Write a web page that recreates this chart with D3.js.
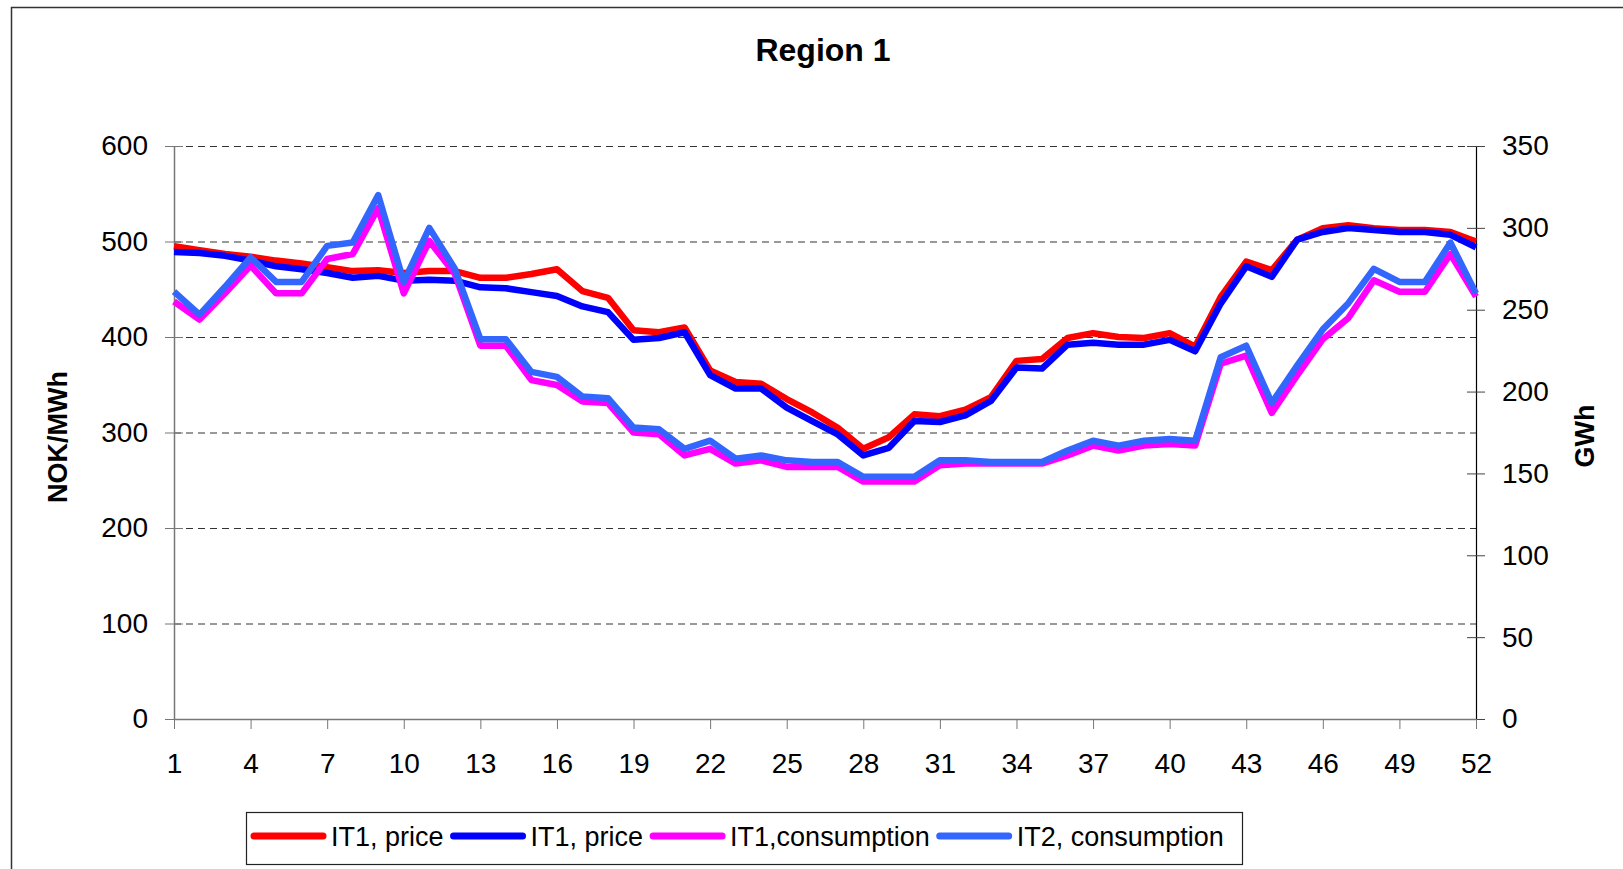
<!DOCTYPE html>
<html>
    <head>
        <meta charset="utf-8">
        <script src="https://d3js.org/d3.v7.min.js"></script>
        <title>Region 1</title>
        <style>
            body { margin: 0; background-color: #fff }
            text { font-family: "Liberation Sans", Arial, sans-serif }
        </style>
    </head>
    <body>
        <script>
            /* data */
            const weeks = d3.range(1, 53)
            const weekTicks = [1, 4, 7, 10, 13, 16, 19, 22, 25, 28, 31, 34, 37, 40, 43, 46, 49, 52]
            const priceTicks = [0, 100, 200, 300, 400, 500, 600]
            const gwhTicks = [0, 50, 100, 150, 200, 250, 300, 350]

            const priceIT1a = [495, 491, 487, 484, 480, 477, 473, 469, 470, 467, 469, 469, 462, 462, 466, 471, 448, 441, 407, 405,
                               410, 365, 353, 351, 335, 321, 305, 283, 295, 319, 317, 324, 337, 375, 377, 399, 404, 400, 399, 404,
                               390, 442, 479, 470, 502, 514, 517, 514, 512, 512, 510, 500]
            const priceIT1b = [489, 488, 485, 480, 474, 471, 467, 462, 464, 459, 460, 459, 452, 451, 447, 443, 432, 426, 397, 399,
                               405, 360, 346, 346, 326, 312, 298, 276, 284, 312, 311, 318, 333, 368, 367, 392, 394, 392, 392, 397,
                               385, 435, 474, 463, 502, 510, 514, 512, 510, 510, 507, 494]
            const consIT1 = [255, 244, 260, 277, 260, 260, 281, 284, 312, 260, 292, 272, 228, 228, 207, 204, 194, 193, 175, 174,
                             161, 165, 156, 158, 154, 154, 154, 145, 145, 145, 155, 156, 156, 156, 156, 161, 167, 164, 167, 168,
                             167, 217, 222, 187, 210, 232, 245, 268, 261, 261, 284, 258]
            const consIT2 = [261, 247, 264, 282, 267, 267, 289, 291, 320, 267, 300, 275, 232, 232, 212, 209, 197, 196, 178, 177,
                             165, 170, 159, 161, 158, 157, 157, 148, 148, 148, 158, 158, 157, 157, 157, 164, 170, 167, 170, 171,
                             170, 221, 228, 193, 216, 238, 254, 275, 267, 267, 291, 260]

            const seriesNames = ['IT1, price', 'IT1, price', 'IT1,consumption', 'IT2, consumption']
            const seriesColors = ['#ff0000', '#0000ff', '#ff00ff', '#3366ff']

            /* canvas setup */
            const width = 1623
            const height = 869
            const plot = { left: 174, right: 1476, top: 146, bottom: 719 }

            const svg = d3.select('body')
                .append('svg')
                    .attr('width', width)
                    .attr('height', height)

            // outer frame, only top and left edges show
            svg.append('rect')
                .attr('x', 11.5).attr('y', 7.5)
                .attr('width', 1800).attr('height', 1000)
                .attr('fill', 'none')
                .attr('stroke', '#333')
                .attr('stroke-width', 1.5)

            const xScale = d3.scaleLinear().domain([1, 52]).range([plot.left, plot.right])
            const yPrice = d3.scaleLinear().domain([0, 600]).range([plot.bottom, plot.top])
            const yGwh = d3.scaleLinear().domain([0, 350]).range([plot.bottom, plot.top])

            /* grid */
            svg.append('g').selectAll('line')
                .data(priceTicks.filter(d => d > 0))
                .join('line')
                    .attr('x1', plot.left).attr('x2', plot.right)
                    .attr('y1', d => yPrice(d) + 0.5).attr('y2', d => yPrice(d) + 0.5)
                    .attr('stroke', '#333')
                    .attr('stroke-dasharray', '7,5')

            /* axes */
            const fontSize = 28

            const axL = svg.append('g')
                .attr('transform', `translate(${plot.left},0)`)
                .call(d3.axisLeft(yPrice).tickValues(priceTicks).tickSize(9).tickSizeOuter(0).tickPadding(17))
            axL.selectAll('.tick line').attr('x1', 9).attr('stroke', '#777')
            axL.select('.domain').attr('stroke', '#777').attr('stroke-width', 1.5)

            const axR = svg.append('g')
                .attr('transform', `translate(${plot.right},0)`)
                .call(d3.axisRight(yGwh).tickValues(gwhTicks).tickSize(9).tickSizeOuter(0).tickPadding(17))
            axR.selectAll('.tick line').attr('x1', -9).attr('stroke', '#444')
            axR.select('.domain').attr('stroke', '#000').attr('stroke-width', 1.2)

            const axB = svg.append('g')
                .attr('transform', `translate(0,${plot.bottom})`)
                .call(d3.axisBottom(xScale).tickValues(weekTicks).tickSize(10).tickSizeOuter(0).tickPadding(24))
            axB.selectAll('.tick line').attr('stroke', '#777')
            axB.select('.domain').attr('stroke', '#777').attr('stroke-width', 1.5)

            svg.selectAll('.tick text')
                .attr('font-size', fontSize)
                .attr('font-family', '"Liberation Sans", Arial, sans-serif')
                .attr('fill', '#000')

            /* lines */
            const priceLine = d3.line().x((d, i) => xScale(weeks[i])).y(d => yPrice(d))
            const gwhLine = d3.line().x((d, i) => xScale(weeks[i])).y(d => yGwh(d))

            const series = [
                { values: priceIT1a, line: priceLine },
                { values: priceIT1b, line: priceLine },
                { values: consIT1, line: gwhLine },
                { values: consIT2, line: gwhLine }
            ]

            series.forEach((s, i) => {
                svg.append('path')
                    .attr('d', s.line(s.values))
                    .attr('fill', 'none')
                    .attr('stroke', seriesColors[i])
                    .attr('stroke-width', 6.5)
                    .attr('stroke-linejoin', 'round')
            })

            /* titles */
            svg.append('text')
                .attr('x', 823).attr('y', 61)
                .attr('text-anchor', 'middle')
                .attr('font-size', 32)
                .attr('font-weight', 'bold')
                .text('Region 1')

            svg.append('text')
                .attr('transform', 'translate(67,437) rotate(-90)')
                .attr('text-anchor', 'middle')
                .attr('font-size', 27)
                .attr('font-weight', 'bold')
                .text('NOK/MWh')

            svg.append('text')
                .attr('transform', 'translate(1594,436) rotate(-90)')
                .attr('text-anchor', 'middle')
                .attr('font-size', 27)
                .attr('font-weight', 'bold')
                .text('GWh')

            /* legend */
            const legend = svg.append('g')
            legend.append('rect')
                .attr('x', 246.5).attr('y', 812.5)
                .attr('width', 996).attr('height', 52)
                .attr('fill', '#fff')
                .attr('stroke', '#222')
                .attr('stroke-width', 1.2)

            let lx = 254
            const ly = 836
            seriesNames.forEach((name, i) => {
                legend.append('line')
                    .attr('x1', lx).attr('x2', lx + 69)
                    .attr('y1', ly).attr('y2', ly)
                    .attr('stroke', seriesColors[i])
                    .attr('stroke-width', 7)
                    .attr('stroke-linecap', 'round')
                const t = legend.append('text')
                    .attr('x', lx + 77).attr('y', ly + 10)
                    .attr('font-size', 27)
                    .text(name)
                lx += 77 + t.node().getComputedTextLength() + 10
            })
        </script>
    </body>
</html>
